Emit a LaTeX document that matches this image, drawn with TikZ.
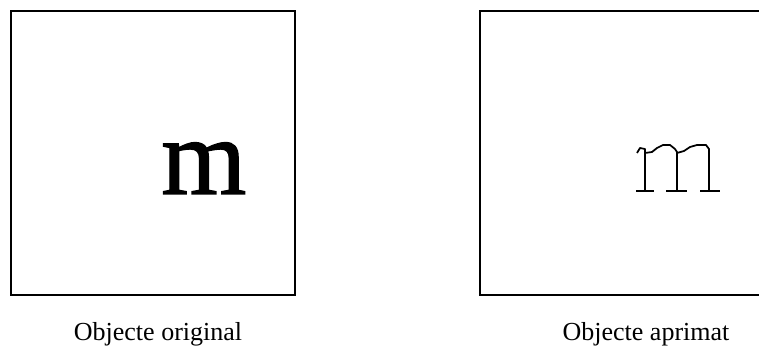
\documentclass[tikz,border=0pt]{standalone}
\usepackage{fontspec}
\setmainfont{Liberation Serif}
\newfontfamily\heavyserif[FakeBold=1.2]{Liberation Serif}
\tikzset{
  frame/.style={
    draw,
    line width=1.5pt
  },
  glyph/.style={
    anchor=base west,
    inner sep=0pt,
    font=\heavyserif\fontsize{82}{82}\selectfont
  },
  caption/.style={
    anchor=base,
    inner sep=0pt,
    font=\fontsize{19.5}{21}\selectfont
  },
  skeleton/.style={line width=1.3pt, line join=round}
}

\begin{document}
\begin{tikzpicture}[x=0.75pt,y=-0.75pt]
\useasboundingbox (0,0) rectangle (759,348);
\clip (0,0) rectangle (759,348);

% frames
\node[frame, minimum width=213pt, minimum height=213pt, inner sep=0pt] (orig) at (153,153) {};
\node[frame, minimum width=211pt, minimum height=213pt, inner sep=0pt] (thin) at (621,153) {};

% original letter
\node[glyph] (origm) at (161,194) {m};

% thinned letter
\draw[skeleton] (637,153) -- (640,148) -- (645,149) -- (645,191);
\draw[skeleton] (645,153) -- (652,152) -- (657,148) -- (663,145) -- (670,145) -- (675,149) -- (677,152) -- (677,191);
\draw[skeleton] (677,153) -- (684,151) -- (690,147) -- (697,145) -- (706,145) -- (709,149) -- (709,152) -- (709,191);
\draw[skeleton] (636,191) -- (654,191);
\draw[skeleton] (666,191) -- (687,191);
\draw[skeleton] (700,191) -- (720,191);

% captions
\node[caption] (origlabel) at (158,341) {Objecte original};
\node[caption] (thinlabel) at (646,341) {Objecte aprimat};
\end{tikzpicture}
\end{document}
